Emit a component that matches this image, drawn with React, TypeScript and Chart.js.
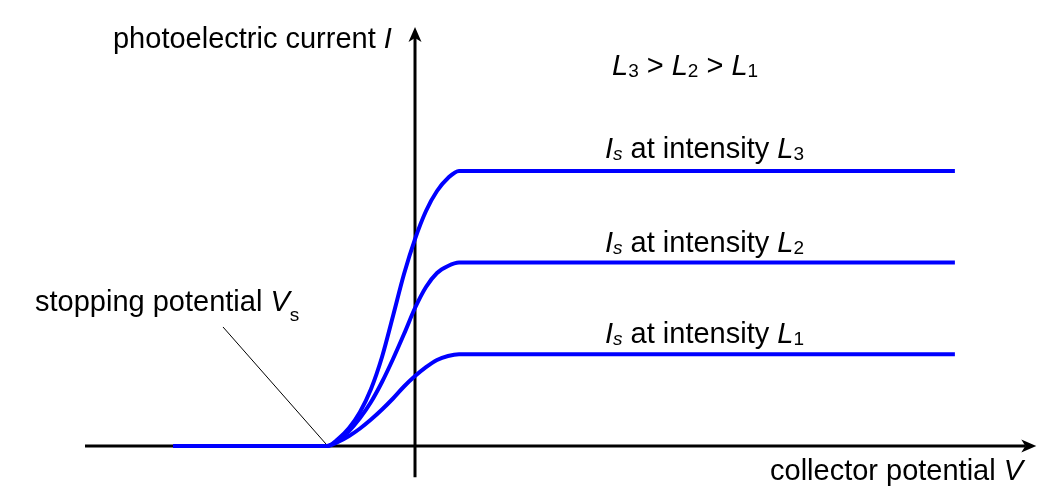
import React, { useEffect, useRef } from 'react';
import { Chart, registerables } from 'chart.js';

Chart.register(...registerables);

// Collector potential V (arbitrary units, 0 at the current axis)
const V_SAMPLES = [-5.5, -2, -1.75, -1.5, -1.25, -1, -0.75, -0.5, -0.25, 0, 0.25, 0.5, 0.75, 1, 12.27];

// Photoelectric current I for each light intensity
const L1_I = [0, 0, 0.044, 0.109, 0.191, 0.289, 0.398, 0.518, 0.649, 0.763, 0.861, 0.938, 0.981, 1, 1];
const L2_I = [0, 0, 0.065, 0.164, 0.305, 0.48, 0.698, 0.949, 1.221, 1.505, 1.734, 1.887, 1.963, 2, 2];
const L3_I = [0, 0, 0.076, 0.196, 0.371, 0.622, 0.971, 1.418, 1.876, 2.257, 2.563, 2.781, 2.923, 3, 3];

const STOPPING_V = -2;

// axis extents and view window (data units)
const X_MIN = -9.432;
const X_MAX = 14.477;
const Y_MIN = -0.458;
const Y_MAX = 4.864;
const X_AXIS_RANGE = [-7.5, 14.12];
const Y_AXIS_RANGE = [-0.34, 4.57];

const FONT = '"Liberation Sans", Arial, Helvetica, sans-serif';
const MAIN_SIZE = 29;
const SUB_SIZE = 19;

type Seg = { t: string; italic?: boolean; sub?: boolean };
type Label = { v: number; i: number; subDy: number; segs: Seg[] };

const LABELS: Label[] = [
  { v: -6.864, i: 4.34, subDy: 2, segs: [{ t: 'photoelectric current ' }, { t: 'I', italic: true }] },
  {
    v: 4.477, i: 4.046, subDy: 2,
    segs: [
      { t: 'L', italic: true }, { t: '3', sub: true }, { t: ' > ' },
      { t: 'L', italic: true }, { t: '2', sub: true }, { t: ' > ' },
      { t: 'L', italic: true }, { t: '1', sub: true },
    ],
  },
  { v: 4.318, i: 3.137, subDy: 2, segs: [{ t: 'I', italic: true }, { t: 's', italic: true, sub: true }, { t: ' at intensity ' }, { t: 'L', italic: true }, { t: '3', sub: true }] },
  { v: 4.318, i: 2.119, subDy: 2, segs: [{ t: 'I', italic: true }, { t: 's', italic: true, sub: true }, { t: ' at intensity ' }, { t: 'L', italic: true }, { t: '2', sub: true }] },
  { v: 4.318, i: 1.12, subDy: 2, segs: [{ t: 'I', italic: true }, { t: 's', italic: true, sub: true }, { t: ' at intensity ' }, { t: 'L', italic: true }, { t: '1', sub: true }] },
  { v: -8.636, i: 1.472, subDy: 10, segs: [{ t: 'stopping potential ' }, { t: 'V', italic: true }, { t: 's', sub: true }] },
  { v: 8.068, i: -0.371, subDy: 2, segs: [{ t: 'collector potential ' }, { t: 'V', italic: true }] },
];

const LEADER_FROM = { v: -4.364, i: 1.298 };

const toPoints = (xs: number[], ys: number[]) => xs.map((x, k) => ({ x, y: ys[k] }));

function drawArrow(ctx: CanvasRenderingContext2D, tx: number, ty: number, dx: number, dy: number) {
  const len = 15, half = 6.5, notch = 4;
  const px = -dy, py = dx;
  ctx.beginPath();
  ctx.moveTo(tx, ty);
  ctx.lineTo(tx - dx * len + px * half, ty - dy * len + py * half);
  ctx.lineTo(tx - dx * (len - notch), ty - dy * (len - notch));
  ctx.lineTo(tx - dx * len - px * half, ty - dy * len - py * half);
  ctx.closePath();
  ctx.fill();
}

const diagramPlugin = {
  id: 'diagram',
  beforeDatasetsDraw(chart: any) {
    const { ctx, scales } = chart;
    const xs = scales.x, ys = scales.y;
    const x0 = xs.getPixelForValue(0);
    const y0 = ys.getPixelForValue(0);
    ctx.save();
    ctx.strokeStyle = '#000';
    ctx.fillStyle = '#000';
    ctx.lineWidth = 3;
    // x axis
    const xa = xs.getPixelForValue(X_AXIS_RANGE[0]);
    const xb = xs.getPixelForValue(X_AXIS_RANGE[1]);
    ctx.beginPath();
    ctx.moveTo(xa, y0);
    ctx.lineTo(xb - 11, y0);
    ctx.stroke();
    drawArrow(ctx, xb, y0, 1, 0);
    // y axis
    const ya = ys.getPixelForValue(Y_AXIS_RANGE[0]);
    const yb = ys.getPixelForValue(Y_AXIS_RANGE[1]);
    ctx.beginPath();
    ctx.moveTo(x0, ya);
    ctx.lineTo(x0, yb + 11);
    ctx.stroke();
    drawArrow(ctx, x0, yb, 0, -1);
    // leader line to stopping potential
    ctx.lineWidth = 1;
    ctx.beginPath();
    ctx.moveTo(xs.getPixelForValue(LEADER_FROM.v), ys.getPixelForValue(LEADER_FROM.i));
    ctx.lineTo(xs.getPixelForValue(STOPPING_V) - 1, ys.getPixelForValue(0) - 2);
    ctx.stroke();
    ctx.restore();
  },
  afterDatasetsDraw(chart: any) {
    const { ctx, scales } = chart;
    ctx.save();
    ctx.fillStyle = '#000';
    ctx.textBaseline = 'alphabetic';
    ctx.textAlign = 'left';
    for (const lab of LABELS) {
      let x = scales.x.getPixelForValue(lab.v);
      const y = scales.y.getPixelForValue(lab.i);
      for (const s of lab.segs) {
        ctx.font = `${s.italic ? 'italic ' : ''}${s.sub ? SUB_SIZE : MAIN_SIZE}px ${FONT}`;
        ctx.fillText(s.t, x, y + (s.sub ? lab.subDy : 0));
        x += ctx.measureText(s.t).width;
      }
    }
    ctx.restore();
  },
};

export default function App() {
  const ref = useRef<HTMLCanvasElement | null>(null);
  useEffect(() => {
    if (!ref.current) return;
    const line = (label: string, ys: number[]) => ({
      label,
      data: toPoints(V_SAMPLES, ys),
      showLine: true,
      borderColor: '#0000FF',
      backgroundColor: '#0000FF',
      borderWidth: 4,
      pointRadius: 0,
      fill: false,
      cubicInterpolationMode: 'monotone' as const,
    });
    const chart = new Chart(ref.current, {
      type: 'scatter',
      data: {
        datasets: [line('L1', L1_I), line('L2', L2_I), line('L3', L3_I)],
      },
      options: {
        animation: false,
        responsive: false,
        devicePixelRatio: 1,
        layout: { padding: 0 },
        plugins: { legend: { display: false }, tooltip: { enabled: false } },
        scales: {
          x: { type: 'linear', min: X_MIN, max: X_MAX, display: false },
          y: { type: 'linear', min: Y_MIN, max: Y_MAX, display: false },
        },
      },
      plugins: [diagramPlugin],
    });
    return () => chart.destroy();
  }, []);
  return (
    <div style={{ position: 'absolute', left: 0, top: 0, width: 1052, height: 488, background: '#fff' }}>
      <canvas ref={ref} width={1052} height={488} style={{ display: 'block' }} />
    </div>
  );
}
